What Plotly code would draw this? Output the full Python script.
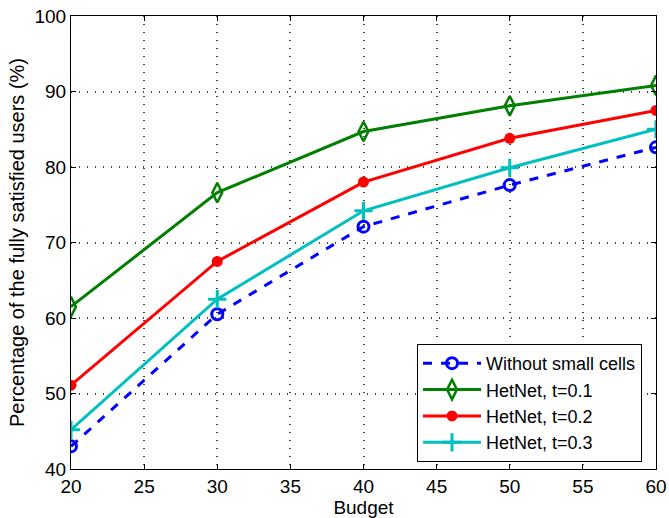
import plotly.graph_objects as go

budget = [20, 30, 40, 50, 60]
without_small = [43.0, 60.5, 72.1, 77.6, 82.6]
hetnet_01 = [61.5, 76.6, 84.7, 88.1, 90.8]
hetnet_02 = [51.1, 67.5, 78.0, 83.8, 87.5]
hetnet_03 = [45.2, 62.5, 74.2, 79.9, 85.0]
x_ticks = [20, 25, 30, 35, 40, 45, 50, 55, 60]
y_ticks = [40, 50, 60, 70, 80, 90, 100]

FONT = "Liberation Sans, Arial"

fig = go.Figure()
fig.add_trace(go.Scatter(x=budget, y=without_small, name="Without small cells",
                         mode="lines+markers",
                         line=dict(color="#0000FF", width=3, dash="dash"),
                         marker=dict(symbol="circle-open", size=11, color="#0000FF", line=dict(width=3))))
fig.add_trace(go.Scatter(x=budget, y=hetnet_01, name="HetNet, t=0.1",
                         mode="lines+markers",
                         line=dict(color="#007F00", width=3),
                         marker=dict(symbol="diamond-tall-open", size=14, color="#007F00", line=dict(width=2.5))))
fig.add_trace(go.Scatter(x=budget, y=hetnet_02, name="HetNet, t=0.2",
                         mode="lines+markers",
                         line=dict(color="#FF0000", width=3),
                         marker=dict(symbol="circle", size=11, color="#FF0000")))
fig.add_trace(go.Scatter(x=budget, y=hetnet_03, name="HetNet, t=0.3",
                         mode="lines+markers",
                         line=dict(color="#00BFBF", width=3),
                         marker=dict(symbol="cross-thin-open", size=13, color="#00BFBF", line=dict(width=3, color="#00BFBF"))))

axis_common = dict(
    showline=True, linecolor="black", linewidth=1, mirror="ticks",
    ticks="inside", ticklen=5, tickcolor="black",
    showgrid=True, gridcolor="#444444", griddash="1px,7px", gridwidth=1.5,
    zeroline=False, automargin=False, ticklabeloverflow="allow",
    tickfont=dict(family=FONT, size=19, color="black"),
)
fig.update_xaxes(range=[20, 60], tickvals=x_ticks, ticklabelstandoff=0,
                 title=dict(text="Budget", font=dict(size=19, color="black", family=FONT), standoff=1), **axis_common)
fig.update_yaxes(range=[40, 100], tickvals=y_ticks, ticklabelstandoff=0,
                 title=dict(text="Percentage of the fully satisfied users (%)", font=dict(size=20, color="black", family=FONT), standoff=4), **axis_common)

fig.update_layout(
    width=669, height=518,
    margin=dict(l=71, r=13, t=16, b=49),
    paper_bgcolor="white", plot_bgcolor="white",
    font=dict(family=FONT, color="black"),
    showlegend=True,
    legend=dict(x=0.5915, y=0.276, xanchor="left", yanchor="top",
                bgcolor="white", bordercolor="black", borderwidth=1,
                font=dict(size=18, color="black"), tracegroupgap=0, itemwidth=58),
)
fig.write_html("out.html",
               config={"displayModeBar": False},
               post_script="document.body.style.margin='0';document.documentElement.style.overflow='hidden';document.body.style.overflow='hidden';")
